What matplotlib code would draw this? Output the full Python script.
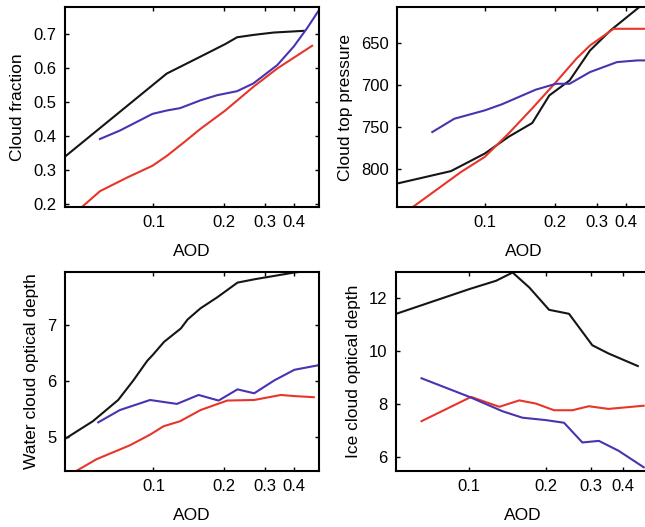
import numpy as np
import matplotlib
matplotlib.use('Agg')
import matplotlib.pyplot as plt
from matplotlib.ticker import FixedLocator, FixedFormatter, NullLocator

plt.rcParams['font.family'] = ['Liberation Sans', 'DejaVu Sans']

black = '#151515'
blue = '#4a32b0'
red = '#e8352a'

# cloud fraction
cf_black_x = [0.0418, 0.114, 0.159, 0.203, 0.228, 0.268, 0.327, 0.440]
cf_black_y = [0.339, 0.584, 0.634, 0.671, 0.691, 0.698, 0.705, 0.710]
cf_blue_x = [0.059, 0.0719, 0.099, 0.114, 0.130, 0.159, 0.187, 0.228, 0.268, 0.339, 0.399, 0.455, 0.51]
cf_blue_y = [0.391, 0.416, 0.465, 0.475, 0.482, 0.505, 0.520, 0.532, 0.555, 0.609, 0.664, 0.718, 0.77]
cf_red_x = [0.0484, 0.059, 0.077, 0.099, 0.114, 0.135, 0.159, 0.203, 0.268, 0.339, 0.478]
cf_red_y = [0.185, 0.237, 0.277, 0.312, 0.341, 0.381, 0.421, 0.475, 0.545, 0.599, 0.666]

# cloud top pressure
ctp_black_x = [0.042, 0.0717, 0.1, 0.1264, 0.1595, 0.1887, 0.2303, 0.2815, 0.344, 0.4567]
ctp_black_y = [818, 803, 782, 762, 745.5, 712.5, 694.6, 658.8, 634.9, 607]
ctp_blue_x = [0.0597, 0.0741, 0.1, 0.1182, 0.1649, 0.2014, 0.2303, 0.2815, 0.367, 0.448, 0.503]
ctp_blue_y = [756.3, 740.4, 730.4, 723.2, 705.7, 698.6, 698.6, 684.6, 672.7, 670.7, 670.7]
ctp_red_x = [0.0489, 0.0792, 0.1, 0.1264, 0.1595, 0.2014, 0.246, 0.2815, 0.355, 0.503]
ctp_red_y = [846.6, 804, 786, 758, 728, 696.6, 668.7, 652.8, 632.9, 632.9]

# water cloud optical depth
wcod_black_x = [0.042, 0.055, 0.0706, 0.082, 0.094, 0.099, 0.111, 0.131, 0.140, 0.159, 0.188, 0.229, 0.271, 0.40, 0.51]
wcod_black_y = [4.97, 5.28, 5.66, 6.01, 6.36, 6.46, 6.70, 6.94, 7.10, 7.30, 7.50, 7.76, 7.82, 7.94, 7.99]
wcod_blue_x = [0.058, 0.0718, 0.0967, 0.126, 0.156, 0.19, 0.229, 0.27, 0.329, 0.401, 0.506]
wcod_blue_y = [5.26, 5.48, 5.66, 5.59, 5.75, 5.65, 5.85, 5.78, 6.01, 6.20, 6.28]
wcod_red_x = [0.0467, 0.057, 0.0793, 0.0967, 0.1104, 0.130, 0.159, 0.207, 0.27, 0.351, 0.401, 0.486]
wcod_red_y = [4.39, 4.60, 4.85, 5.04, 5.19, 5.28, 5.48, 5.65, 5.66, 5.75, 5.73, 5.71]

# ice cloud optical depth
icod_black_x = [0.052, 0.1006, 0.1278, 0.1483, 0.1723, 0.206, 0.2465, 0.304, 0.352, 0.458]
icod_black_y = [11.39, 12.32, 12.63, 12.94, 12.38, 11.54, 11.39, 10.21, 9.90, 9.43]
icod_blue_x = [0.0653, 0.1006, 0.1356, 0.162, 0.2, 0.2357, 0.278, 0.3225, 0.385, 0.483]
icod_blue_y = [8.97, 8.27, 7.73, 7.49, 7.40, 7.30, 6.56, 6.62, 6.25, 5.63]
icod_red_x = [0.0653, 0.102, 0.1316, 0.1576, 0.183, 0.2154, 0.254, 0.2946, 0.352, 0.483]
icod_red_y = [7.36, 8.27, 7.90, 8.14, 8.02, 7.77, 7.77, 7.92, 7.82, 7.94]

xticks = [0.1, 0.2, 0.3, 0.4]
xticklabels = ['0.1', '0.2', '0.3', '0.4']

fig = plt.figure(figsize=(6.45, 5.27), dpi=100)


def make_panel(rect, xlim, ylim, yticks, ylabel, series):
    ax = fig.add_axes(rect)
    for x, y, c in series:
        ax.plot(x, y, color=c, lw=1.5)
    ax.set_xscale('log')
    ax.set_xlim(*xlim)
    ax.set_ylim(*ylim)
    ax.xaxis.set_major_locator(FixedLocator(xticks))
    ax.xaxis.set_major_formatter(FixedFormatter(xticklabels))
    ax.xaxis.set_minor_locator(NullLocator())
    ax.set_yticks(yticks)
    ax.tick_params(direction='in', top=True, right=True, length=3, width=1,
                   labelsize=12, pad=6)
    for s in ax.spines.values():
        s.set_linewidth(1.5)
    ax.set_xlabel('AOD', fontsize=12.5, labelpad=10)
    ax.set_ylabel(ylabel, fontsize=12.5, labelpad=6)
    return ax


w = 0.393
h_top = 0.3795
h_bot = 0.3776

make_panel([0.1008, 0.607, w, h_top], (0.0418, 0.509), (0.19, 0.78),
           [0.2, 0.3, 0.4, 0.5, 0.6, 0.7], 'Cloud fraction',
           [(cf_black_x, cf_black_y, black), (cf_red_x, cf_red_y, red),
            (cf_blue_x, cf_blue_y, blue)])

make_panel([0.6155, 0.607, w, h_top], (0.0422, 0.51), (846, 607),
           [650, 700, 750, 800], 'Cloud top pressure',
           [(ctp_black_x, ctp_black_y, black), (ctp_red_x, ctp_red_y, red),
            (ctp_blue_x, ctp_blue_y, blue)])

make_panel([0.1008, 0.1063, w, h_bot], (0.0418, 0.509), (4.39, 7.95),
           [5, 6, 7], 'Water cloud optical depth',
           [(wcod_black_x, wcod_black_y, black), (wcod_red_x, wcod_red_y, red),
            (wcod_blue_x, wcod_blue_y, blue)])

make_panel([0.614, 0.1063, w, h_bot], (0.0519, 0.509), (5.49, 12.96),
           [6, 8, 10, 12], 'Ice cloud optical depth',
           [(icod_black_x, icod_black_y, black), (icod_red_x, icod_red_y, red),
            (icod_blue_x, icod_blue_y, blue)])

fig.savefig('out.png', dpi=100)
